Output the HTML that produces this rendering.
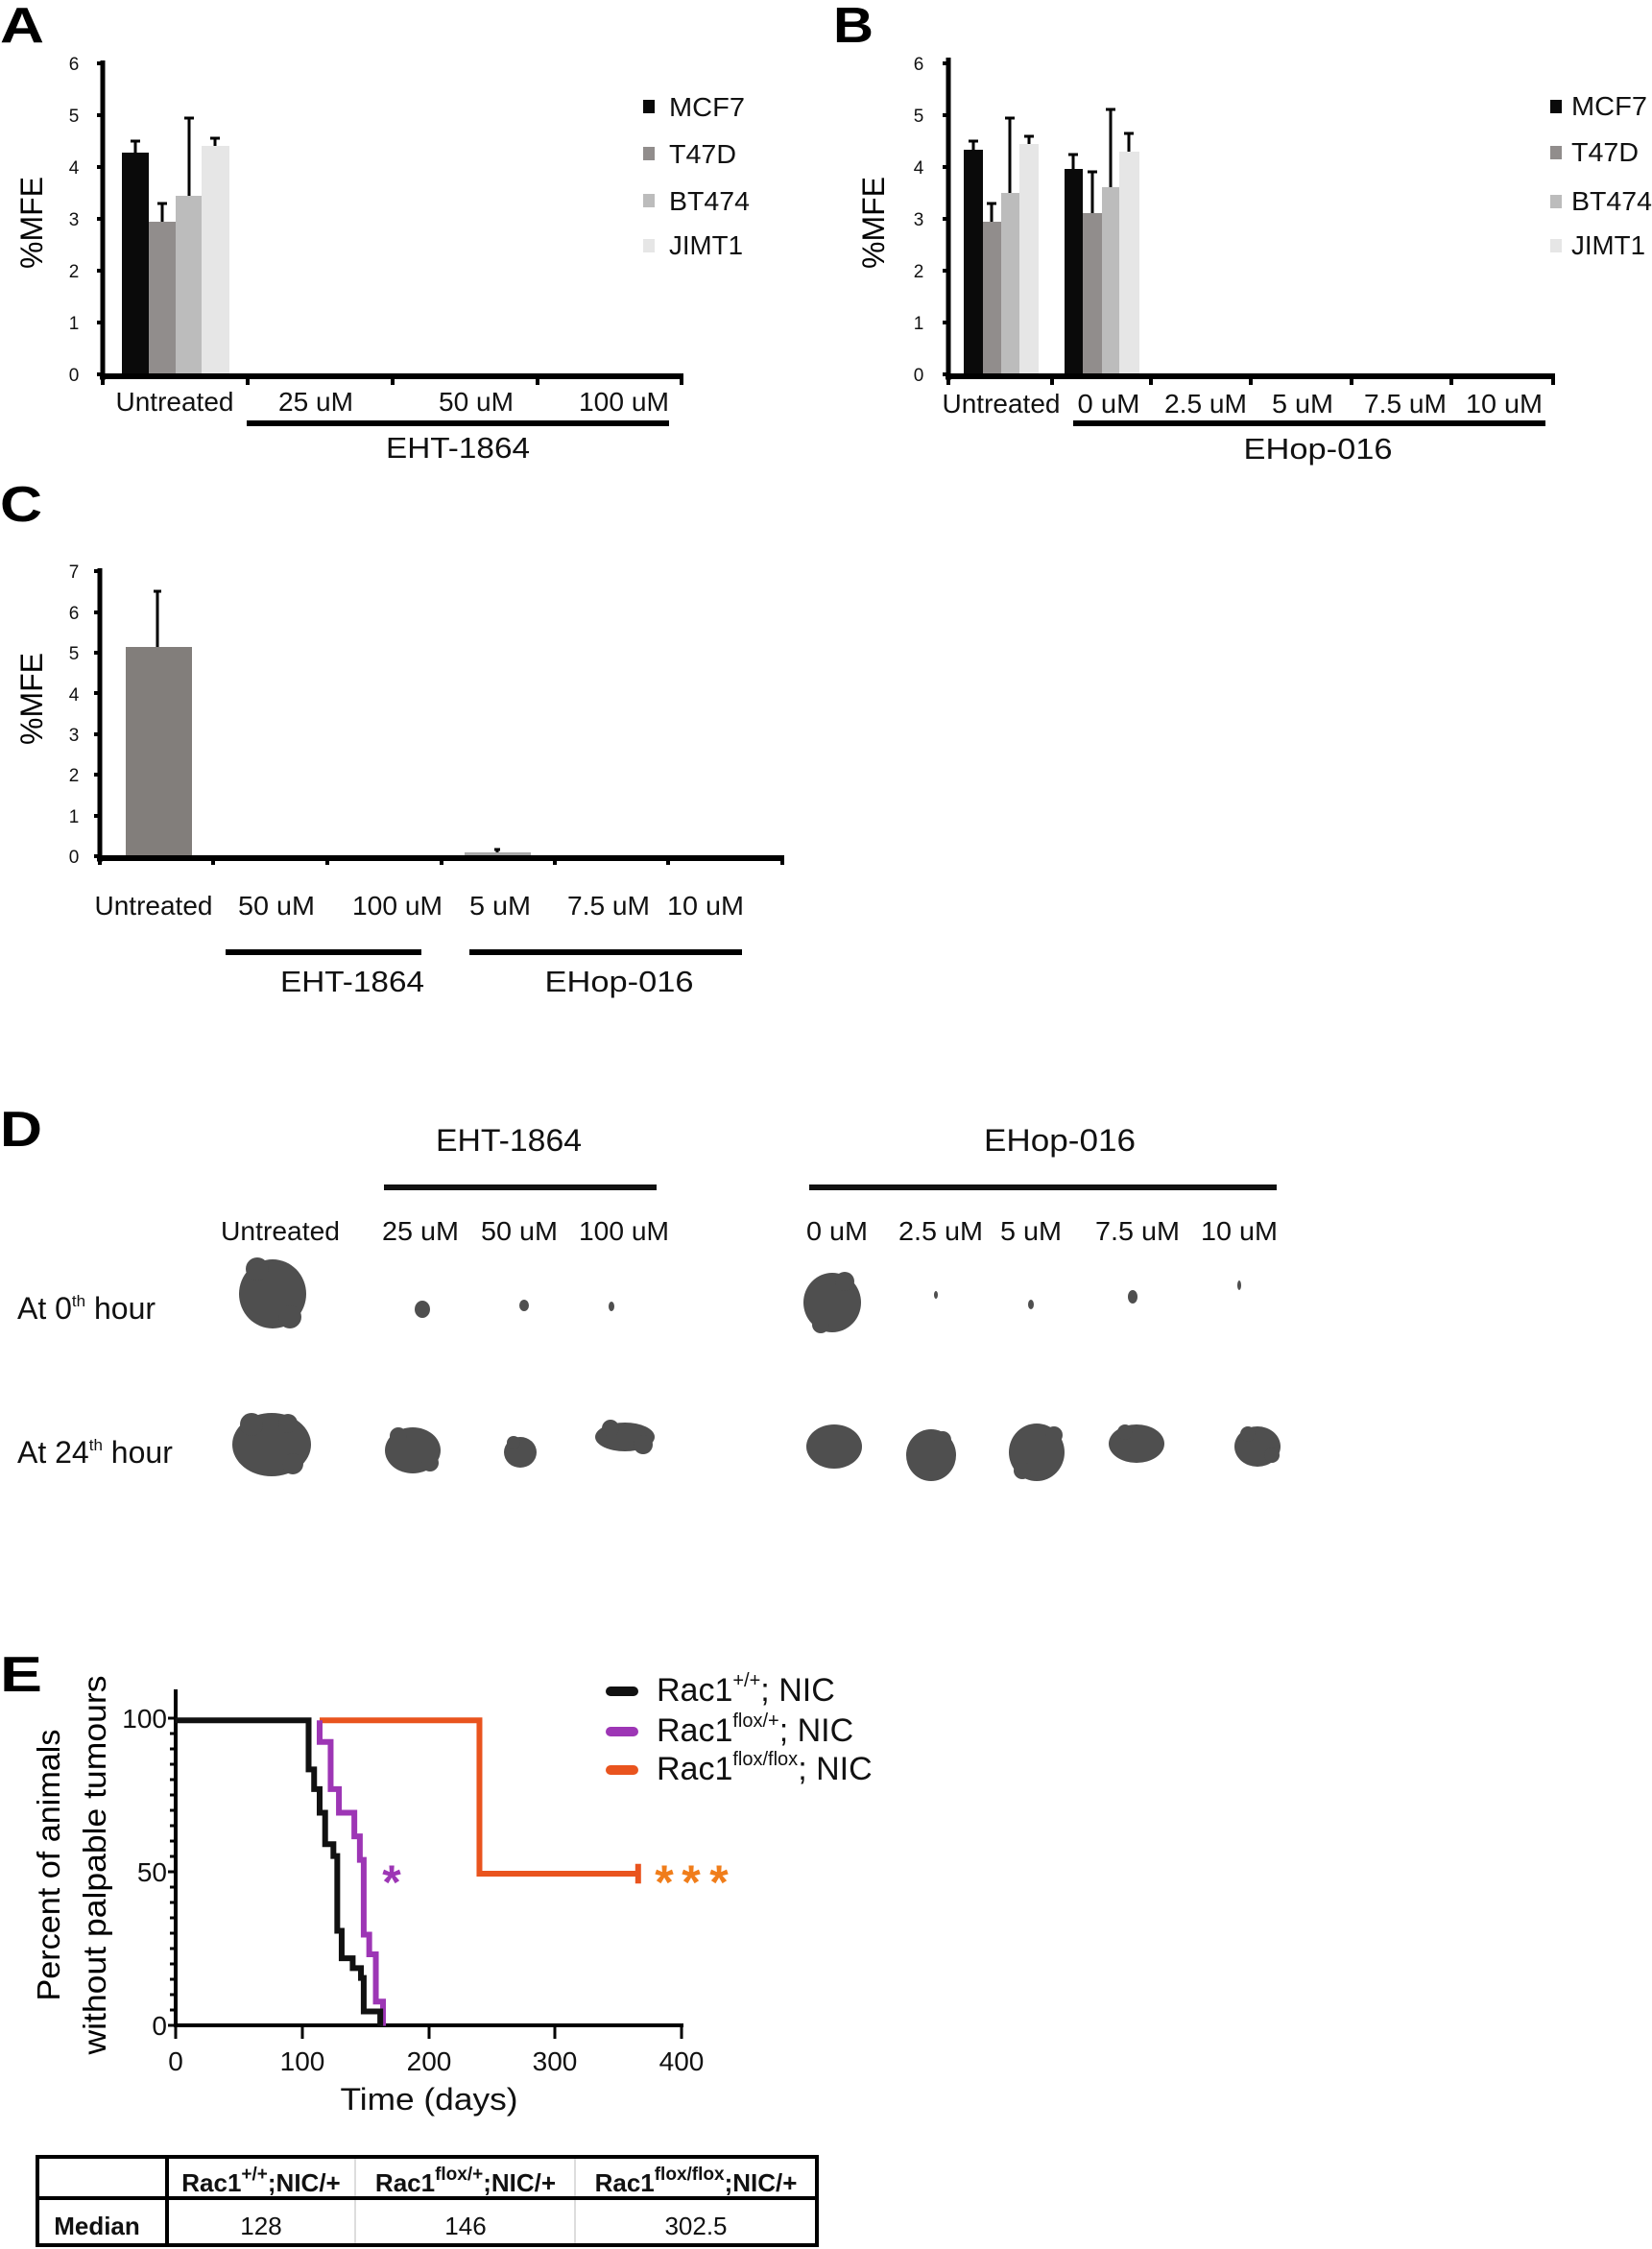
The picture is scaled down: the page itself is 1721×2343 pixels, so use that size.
<!DOCTYPE html>
<html><head><meta charset="utf-8"><style>
html,body{margin:0;padding:0;background:#fff;}
svg{display:block;font-family:"Liberation Sans",Arial,sans-serif;}
</style></head><body>
<svg width="1721" height="2343" viewBox="0 0 1721 2343" xmlns="http://www.w3.org/2000/svg">
<rect width="1721" height="2343" fill="#fff"/>

<!-- ================= PANEL A ================= -->
<text x="0" y="44" font-size="52" font-weight="bold" textLength="46" lengthAdjust="spacingAndGlyphs">A</text>
<g font-size="19" text-anchor="middle" fill="#111">
<text x="77" y="397">0</text><text x="77" y="343">1</text><text x="77" y="289">2</text><text x="77" y="235">3</text><text x="77" y="181">4</text><text x="77" y="127">5</text><text x="77" y="73">6</text>
</g>
<g stroke="#000" stroke-width="4">
<line x1="101" y1="390" x2="107" y2="390"/><line x1="101" y1="336" x2="107" y2="336"/><line x1="101" y1="282" x2="107" y2="282"/><line x1="101" y1="228" x2="107" y2="228"/><line x1="101" y1="174" x2="107" y2="174"/><line x1="101" y1="120" x2="107" y2="120"/><line x1="101" y1="66" x2="107" y2="66"/>
</g>
<rect x="127" y="159" width="28" height="231" fill="#0a0a0a"/>
<rect x="155" y="231" width="28" height="159" fill="#918d8c"/>
<rect x="183" y="204" width="27" height="186" fill="#bcbcbc"/>
<rect x="210" y="152" width="29" height="238" fill="#e6e6e6"/>
<g stroke="#000" stroke-width="3">
<line x1="141" y1="159" x2="141" y2="147"/><line x1="136" y1="147" x2="146" y2="147"/>
<line x1="169" y1="231" x2="169" y2="212"/><line x1="164" y1="212" x2="174" y2="212"/>
<line x1="197" y1="204" x2="197" y2="123"/><line x1="192" y1="123" x2="202" y2="123"/>
<line x1="224" y1="152" x2="224" y2="144"/><line x1="219" y1="144" x2="229" y2="144"/>
</g>
<line x1="107" y1="63" x2="107" y2="396" stroke="#000" stroke-width="5"/>
<line x1="104" y1="392" x2="712" y2="392" stroke="#000" stroke-width="6"/>
<g stroke="#000" stroke-width="4">
<line x1="107" y1="392" x2="107" y2="401"/><line x1="258" y1="392" x2="258" y2="401"/><line x1="409" y1="392" x2="409" y2="401"/><line x1="560" y1="392" x2="560" y2="401"/><line x1="710" y1="392" x2="710" y2="401"/>
</g>
<g font-size="28" text-anchor="middle" fill="#111">
<text x="182" y="428" textLength="123" lengthAdjust="spacingAndGlyphs">Untreated</text>
<text x="329" y="428" textLength="78" lengthAdjust="spacingAndGlyphs">25 uM</text>
<text x="496" y="428" textLength="78" lengthAdjust="spacingAndGlyphs">50 uM</text>
<text x="650" y="428" textLength="94" lengthAdjust="spacingAndGlyphs">100 uM</text>
<text x="477" y="477" font-size="31" textLength="150" lengthAdjust="spacingAndGlyphs">EHT-1864</text>
</g>
<line x1="257" y1="441" x2="697" y2="441" stroke="#000" stroke-width="6"/>
<text transform="translate(44,232) rotate(-90)" font-size="32" text-anchor="middle">%MFE</text>
<rect x="670" y="104" width="12" height="14" fill="#0a0a0a"/>
<rect x="670" y="153" width="12" height="14" fill="#918d8c"/>
<rect x="670" y="202" width="12" height="14" fill="#bcbcbc"/>
<rect x="670" y="249" width="12" height="14" fill="#e6e6e6"/>
<g font-size="28" fill="#111">
<text x="697" y="121" textLength="79" lengthAdjust="spacingAndGlyphs">MCF7</text>
<text x="697" y="170" textLength="70" lengthAdjust="spacingAndGlyphs">T47D</text>
<text x="697" y="219" textLength="84" lengthAdjust="spacingAndGlyphs">BT474</text>
<text x="697" y="265" textLength="77" lengthAdjust="spacingAndGlyphs">JIMT1</text>
</g>

<!-- ================= PANEL B ================= -->
<text x="868" y="44" font-size="52" font-weight="bold" textLength="42" lengthAdjust="spacingAndGlyphs">B</text>
<g font-size="19" text-anchor="middle" fill="#111">
<text x="957" y="397">0</text><text x="957" y="343">1</text><text x="957" y="289">2</text><text x="957" y="235">3</text><text x="957" y="181">4</text><text x="957" y="127">5</text><text x="957" y="73">6</text>
</g>
<g stroke="#000" stroke-width="4">
<line x1="982" y1="390" x2="988" y2="390"/><line x1="982" y1="336" x2="988" y2="336"/><line x1="982" y1="282" x2="988" y2="282"/><line x1="982" y1="228" x2="988" y2="228"/><line x1="982" y1="174" x2="988" y2="174"/><line x1="982" y1="120" x2="988" y2="120"/><line x1="982" y1="66" x2="988" y2="66"/>
</g>
<rect x="1004" y="156" width="20" height="234" fill="#0a0a0a"/>
<rect x="1024" y="231" width="19" height="159" fill="#918d8c"/>
<rect x="1043" y="201" width="19" height="189" fill="#bcbcbc"/>
<rect x="1062" y="150" width="20" height="240" fill="#e6e6e6"/>
<rect x="1109" y="176" width="19" height="214" fill="#0a0a0a"/>
<rect x="1128" y="222" width="20" height="168" fill="#918d8c"/>
<rect x="1148" y="195" width="18" height="195" fill="#bcbcbc"/>
<rect x="1166" y="158" width="21" height="232" fill="#e6e6e6"/>
<g stroke="#000" stroke-width="3">
<line x1="1014" y1="156" x2="1014" y2="147"/><line x1="1009" y1="147" x2="1019" y2="147"/>
<line x1="1033" y1="231" x2="1033" y2="212"/><line x1="1028" y1="212" x2="1038" y2="212"/>
<line x1="1052" y1="201" x2="1052" y2="123"/><line x1="1047" y1="123" x2="1057" y2="123"/>
<line x1="1072" y1="150" x2="1072" y2="142"/><line x1="1067" y1="142" x2="1077" y2="142"/>
<line x1="1118" y1="176" x2="1118" y2="161"/><line x1="1113" y1="161" x2="1123" y2="161"/>
<line x1="1138" y1="222" x2="1138" y2="179"/><line x1="1133" y1="179" x2="1143" y2="179"/>
<line x1="1157" y1="195" x2="1157" y2="114"/><line x1="1152" y1="114" x2="1162" y2="114"/>
<line x1="1176" y1="158" x2="1176" y2="139"/><line x1="1171" y1="139" x2="1181" y2="139"/>
</g>
<line x1="988" y1="60" x2="988" y2="396" stroke="#000" stroke-width="5"/>
<line x1="985" y1="392" x2="1620" y2="392" stroke="#000" stroke-width="6"/>
<g stroke="#000" stroke-width="4">
<line x1="988" y1="392" x2="988" y2="401"/><line x1="1096" y1="392" x2="1096" y2="401"/><line x1="1199" y1="392" x2="1199" y2="401"/><line x1="1303" y1="392" x2="1303" y2="401"/><line x1="1408" y1="392" x2="1408" y2="401"/><line x1="1512" y1="392" x2="1512" y2="401"/><line x1="1618" y1="392" x2="1618" y2="401"/>
</g>
<g font-size="28" text-anchor="middle" fill="#111">
<text x="1043" y="430" textLength="123" lengthAdjust="spacingAndGlyphs">Untreated</text>
<text x="1155" y="430" textLength="65" lengthAdjust="spacingAndGlyphs">0 uM</text>
<text x="1256" y="430" textLength="86" lengthAdjust="spacingAndGlyphs">2.5 uM</text>
<text x="1357" y="430" textLength="64" lengthAdjust="spacingAndGlyphs">5 uM</text>
<text x="1464" y="430" textLength="86" lengthAdjust="spacingAndGlyphs">7.5 uM</text>
<text x="1567" y="430" textLength="80" lengthAdjust="spacingAndGlyphs">10 uM</text>
<text x="1373" y="478" font-size="31" textLength="155" lengthAdjust="spacingAndGlyphs">EHop-016</text>
</g>
<line x1="1118" y1="441" x2="1610" y2="441" stroke="#000" stroke-width="6"/>
<text transform="translate(921,232) rotate(-90)" font-size="32" text-anchor="middle">%MFE</text>
<rect x="1615" y="104" width="12" height="14" fill="#0a0a0a"/>
<rect x="1615" y="152" width="12" height="14" fill="#918d8c"/>
<rect x="1615" y="203" width="12" height="14" fill="#bcbcbc"/>
<rect x="1615" y="249" width="12" height="14" fill="#e6e6e6"/>
<g font-size="28" fill="#111">
<text x="1637" y="120" textLength="79" lengthAdjust="spacingAndGlyphs">MCF7</text>
<text x="1637" y="168" textLength="70" lengthAdjust="spacingAndGlyphs">T47D</text>
<text x="1637" y="219" textLength="84" lengthAdjust="spacingAndGlyphs">BT474</text>
<text x="1637" y="265" textLength="77" lengthAdjust="spacingAndGlyphs">JIMT1</text>
</g>

<!-- ================= PANEL C ================= -->
<text x="0" y="543" font-size="52" font-weight="bold" textLength="44" lengthAdjust="spacingAndGlyphs">C</text>
<g font-size="19" text-anchor="middle" fill="#111">
<text x="77" y="899">0</text><text x="77" y="857">1</text><text x="77" y="814">2</text><text x="77" y="772">3</text><text x="77" y="730">4</text><text x="77" y="687">5</text><text x="77" y="645">6</text><text x="77" y="602">7</text>
</g>
<g stroke="#000" stroke-width="4">
<line x1="98" y1="892" x2="104" y2="892"/><line x1="98" y1="850" x2="104" y2="850"/><line x1="98" y1="807" x2="104" y2="807"/><line x1="98" y1="765" x2="104" y2="765"/><line x1="98" y1="722" x2="104" y2="722"/><line x1="98" y1="680" x2="104" y2="680"/><line x1="98" y1="638" x2="104" y2="638"/><line x1="98" y1="595" x2="104" y2="595"/>
</g>
<rect x="131" y="674" width="69" height="218" fill="#827e7b"/>
<rect x="484" y="888" width="69" height="4" fill="#a9a9a9"/>
<g stroke="#000" stroke-width="3">
<line x1="164" y1="674" x2="164" y2="616"/><line x1="160" y1="616" x2="168" y2="616"/>
<line x1="518" y1="888" x2="518" y2="885"/><line x1="515" y1="885" x2="521" y2="885"/>
</g>
<line x1="104" y1="592" x2="104" y2="898" stroke="#000" stroke-width="5"/>
<line x1="101" y1="894" x2="817" y2="894" stroke="#000" stroke-width="6"/>
<g stroke="#000" stroke-width="4">
<line x1="104" y1="894" x2="104" y2="901"/><line x1="222" y1="894" x2="222" y2="901"/><line x1="341" y1="894" x2="341" y2="901"/><line x1="460" y1="894" x2="460" y2="901"/><line x1="578" y1="894" x2="578" y2="901"/><line x1="696" y1="894" x2="696" y2="901"/><line x1="815" y1="894" x2="815" y2="901"/>
</g>
<g font-size="28" text-anchor="middle" fill="#111">
<text x="160" y="953" textLength="123" lengthAdjust="spacingAndGlyphs">Untreated</text>
<text x="288" y="953" textLength="80" lengthAdjust="spacingAndGlyphs">50 uM</text>
<text x="414" y="953" textLength="94" lengthAdjust="spacingAndGlyphs">100 uM</text>
<text x="521" y="953" textLength="64" lengthAdjust="spacingAndGlyphs">5 uM</text>
<text x="634" y="953" textLength="86" lengthAdjust="spacingAndGlyphs">7.5 uM</text>
<text x="735" y="953" textLength="80" lengthAdjust="spacingAndGlyphs">10 uM</text>
<text x="367" y="1033" font-size="31" textLength="150" lengthAdjust="spacingAndGlyphs">EHT-1864</text>
<text x="645" y="1033" font-size="31" textLength="155" lengthAdjust="spacingAndGlyphs">EHop-016</text>
</g>
<line x1="235" y1="992" x2="439" y2="992" stroke="#000" stroke-width="6"/>
<line x1="489" y1="992" x2="773" y2="992" stroke="#000" stroke-width="6"/>
<text transform="translate(44,728) rotate(-90)" font-size="32" text-anchor="middle">%MFE</text>

<!-- ================= PANEL D ================= -->
<text x="0" y="1194" font-size="52" font-weight="bold" textLength="44" lengthAdjust="spacingAndGlyphs">D</text>
<g font-size="32" text-anchor="middle" fill="#111">
<text x="530" y="1199" textLength="152" lengthAdjust="spacingAndGlyphs">EHT-1864</text>
<text x="1104" y="1199" textLength="158" lengthAdjust="spacingAndGlyphs">EHop-016</text>
</g>
<line x1="400" y1="1237" x2="684" y2="1237" stroke="#111" stroke-width="6"/>
<line x1="843" y1="1237" x2="1330" y2="1237" stroke="#111" stroke-width="6"/>
<g font-size="28" text-anchor="middle" fill="#111">
<text x="292" y="1292" textLength="124" lengthAdjust="spacingAndGlyphs">Untreated</text>
<text x="438" y="1292" textLength="80" lengthAdjust="spacingAndGlyphs">25 uM</text>
<text x="541" y="1292" textLength="80" lengthAdjust="spacingAndGlyphs">50 uM</text>
<text x="650" y="1292" textLength="94" lengthAdjust="spacingAndGlyphs">100 uM</text>
<text x="872" y="1292" textLength="64" lengthAdjust="spacingAndGlyphs">0 uM</text>
<text x="980" y="1292" textLength="88" lengthAdjust="spacingAndGlyphs">2.5 uM</text>
<text x="1074" y="1292" textLength="64" lengthAdjust="spacingAndGlyphs">5 uM</text>
<text x="1185" y="1292" textLength="88" lengthAdjust="spacingAndGlyphs">7.5 uM</text>
<text x="1291" y="1292" textLength="80" lengthAdjust="spacingAndGlyphs">10 uM</text>
</g>
<g font-size="32" fill="#111">
<text x="18" y="1374">At 0<tspan font-size="17" dy="-13">th</tspan><tspan dy="13"> hour</tspan></text>
<text x="18" y="1524">At 24<tspan font-size="17" dy="-13">th</tspan><tspan dy="13"> hour</tspan></text>
</g>
<g fill="#4f4f4f">
<ellipse cx="284" cy="1348" rx="35" ry="36"/><circle cx="268" cy="1322" r="12"/><circle cx="302" cy="1372" r="12"/>
<ellipse cx="440" cy="1364" rx="8" ry="9"/>
<ellipse cx="546" cy="1360" rx="5" ry="6"/>
<ellipse cx="637" cy="1361" rx="3" ry="5"/>
<ellipse cx="867" cy="1357" rx="30" ry="31"/><circle cx="880" cy="1335" r="10"/><circle cx="855" cy="1380" r="9"/>
<ellipse cx="975" cy="1349" rx="2" ry="4"/>
<ellipse cx="1074" cy="1359" rx="3" ry="5"/>
<ellipse cx="1180" cy="1351" rx="5" ry="7"/>
<ellipse cx="1291" cy="1339" rx="2" ry="5"/>
<ellipse cx="283" cy="1505" rx="41" ry="33"/><circle cx="262" cy="1484" r="12"/><circle cx="305" cy="1525" r="11"/><circle cx="300" cy="1483" r="10"/>
<ellipse cx="430" cy="1511" rx="29" ry="24"/><circle cx="415" cy="1496" r="9"/><circle cx="448" cy="1524" r="9"/>
<ellipse cx="542" cy="1513" rx="17" ry="16"/><circle cx="535" cy="1503" r="7"/>
<ellipse cx="651" cy="1497" rx="31" ry="15"/><circle cx="636" cy="1488" r="9"/><circle cx="670" cy="1505" r="10"/>
<ellipse cx="869" cy="1507" rx="29" ry="23"/>
<ellipse cx="970" cy="1516" rx="26" ry="27"/><circle cx="982" cy="1500" r="9"/>
<ellipse cx="1080" cy="1513" rx="29" ry="30"/><circle cx="1098" cy="1495" r="9"/><circle cx="1065" cy="1532" r="9"/>
<ellipse cx="1184" cy="1504" rx="29" ry="20"/><circle cx="1172" cy="1492" r="8"/>
<ellipse cx="1310" cy="1507" rx="24" ry="21"/><circle cx="1300" cy="1494" r="8"/><circle cx="1325" cy="1516" r="8"/>
</g>

<!-- ================= PANEL E ================= -->
<text x="0" y="1762" font-size="52" font-weight="bold" textLength="44" lengthAdjust="spacingAndGlyphs">E</text>
<text transform="translate(62,1943) rotate(-90)" font-size="33" text-anchor="middle" textLength="283" lengthAdjust="spacingAndGlyphs">Percent of animals</text>
<text transform="translate(110,1943) rotate(-90)" font-size="33" text-anchor="middle" textLength="395" lengthAdjust="spacingAndGlyphs">without palpable tumours</text>
<g font-size="28" fill="#111" text-anchor="end">
<text x="174" y="1800">100</text><text x="174" y="1960">50</text><text x="174" y="2120">0</text>
</g>
<g font-size="28" fill="#111" text-anchor="middle">
<text x="183" y="2157">0</text><text x="315" y="2157">100</text><text x="447" y="2157">200</text><text x="578" y="2157">300</text><text x="710" y="2157">400</text>
<text x="447" y="2198" font-size="32" textLength="185" lengthAdjust="spacingAndGlyphs">Time (days)</text>
</g>
<g stroke="#000" stroke-width="3">
<line x1="175" y1="1790" x2="183" y2="1790"/><line x1="177" y1="1806" x2="183" y2="1806"/><line x1="177" y1="1822" x2="183" y2="1822"/><line x1="177" y1="1838" x2="183" y2="1838"/><line x1="177" y1="1854" x2="183" y2="1854"/><line x1="177" y1="1870" x2="183" y2="1870"/><line x1="177" y1="1886" x2="183" y2="1886"/><line x1="177" y1="1902" x2="183" y2="1902"/><line x1="177" y1="1918" x2="183" y2="1918"/><line x1="177" y1="1934" x2="183" y2="1934"/><line x1="175" y1="1950" x2="183" y2="1950"/><line x1="177" y1="1966" x2="183" y2="1966"/><line x1="177" y1="1982" x2="183" y2="1982"/><line x1="177" y1="1998" x2="183" y2="1998"/><line x1="177" y1="2014" x2="183" y2="2014"/><line x1="177" y1="2030" x2="183" y2="2030"/><line x1="177" y1="2046" x2="183" y2="2046"/><line x1="177" y1="2062" x2="183" y2="2062"/><line x1="177" y1="2078" x2="183" y2="2078"/><line x1="177" y1="2094" x2="183" y2="2094"/><line x1="175" y1="2110" x2="183" y2="2110"/>
<line x1="183" y1="2110" x2="183" y2="2124"/><line x1="315" y1="2110" x2="315" y2="2124"/><line x1="447" y1="2110" x2="447" y2="2124"/><line x1="578" y1="2110" x2="578" y2="2124"/><line x1="710" y1="2110" x2="710" y2="2124"/>
</g>
<line x1="183" y1="1760" x2="183" y2="2112" stroke="#000" stroke-width="4"/>
<line x1="181" y1="2110" x2="712" y2="2110" stroke="#000" stroke-width="4"/>
<g transform="translate(0,1700) scale(0.5741,0.4098)" fill="none" stroke-linejoin="miter">
<path d="M580,225 H870 V615 H1158 M1158,590 V640" stroke="#e9541e" stroke-width="6" vector-effect="non-scaling-stroke"/>
<path d="M580,225 V280 H600 V400 H615 V460 H643 V520 H653 V580 H660 V770 H670 V820 H682 V940 H695 V1002" stroke="#9d36b5" stroke-width="6" vector-effect="non-scaling-stroke"/>
<path d="M318,225 H560 V350 H570 V400 H580 V460 H590 V540 H605 V570 H612 V760 H620 V830 H640 V855 H655 V880 H660 V965 H690 V1002" stroke="#111" stroke-width="6" vector-effect="non-scaling-stroke"/>
</g>
<g font-size="50" font-weight="bold" text-anchor="middle">
<text x="408" y="1978" fill="#9d36b5">*</text>
<text x="692" y="1978" fill="#f07d1a">*</text><text x="720" y="1978" fill="#f07d1a">*</text><text x="749" y="1978" fill="#f07d1a">*</text>
</g>
<g stroke-width="10" stroke-linecap="round">
<line x1="636" y1="1762" x2="660" y2="1762" stroke="#111"/>
<line x1="636" y1="1804" x2="660" y2="1804" stroke="#9d36b5"/>
<line x1="636" y1="1844" x2="660" y2="1844" stroke="#e9541e"/>
</g>
<g font-size="34" fill="#111">
<text x="684" y="1772">Rac1<tspan font-size="20" dy="-15">+/+</tspan><tspan dy="15">; NIC</tspan></text>
<text x="684" y="1814">Rac1<tspan font-size="20" dy="-15">flox/+</tspan><tspan dy="15">; NIC</tspan></text>
<text x="684" y="1854">Rac1<tspan font-size="20" dy="-15">flox/flox</tspan><tspan dy="15">; NIC</tspan></text>
</g>

<line x1="370" y1="2247" x2="370" y2="2339" stroke="#bbb" stroke-width="1"/>
<line x1="599" y1="2247" x2="599" y2="2339" stroke="#bbb" stroke-width="1"/>
<rect x="39" y="2247" width="812" height="92" fill="none" stroke="#000" stroke-width="4"/>
<line x1="39" y1="2290" x2="851" y2="2290" stroke="#000" stroke-width="4"/>
<line x1="174" y1="2247" x2="174" y2="2339" stroke="#000" stroke-width="4"/>
<g font-size="26" font-weight="bold" text-anchor="middle" fill="#111">
<text x="272" y="2283">Rac1<tspan font-size="19" dy="-12">+/+</tspan><tspan dy="12">;NIC/+</tspan></text>
<text x="485" y="2283">Rac1<tspan font-size="19" dy="-12">flox/+</tspan><tspan dy="12">;NIC/+</tspan></text>
<text x="725" y="2283">Rac1<tspan font-size="19" dy="-12">flox/flox</tspan><tspan dy="12">;NIC/+</tspan></text>
<text x="101" y="2328">Median</text>
</g>
<g font-size="26" text-anchor="middle" fill="#111">
<text x="272" y="2328">128</text><text x="485" y="2328">146</text><text x="725" y="2328">302.5</text>
</g>
</svg>
</body></html>
